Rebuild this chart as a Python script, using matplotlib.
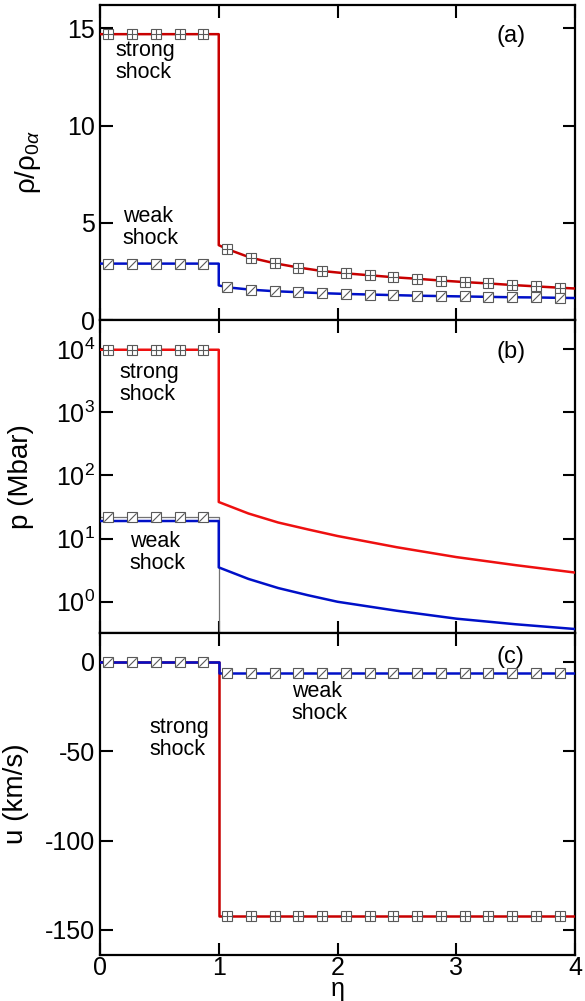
import numpy as np
import matplotlib
matplotlib.use('Agg')
import matplotlib.pyplot as plt
from matplotlib.path import Path

plt.rcParams['font.family'] = ['Liberation Sans', 'DejaVu Sans']
plt.rcParams['mathtext.fontset'] = 'custom'
plt.rcParams['mathtext.rm'] = 'Liberation Sans'
plt.rcParams['mathtext.it'] = 'Liberation Sans:italic'
plt.rcParams['axes.unicode_minus'] = False

# ---- data ----
# (a) density, eta >= 1 branch
eta_curve = [1.0, 1.07, 1.27, 1.47, 1.67, 1.87, 2.07, 2.27, 2.47, 2.67, 2.87, 3.07, 3.27, 3.47, 3.67, 3.87, 4.0]
rho_strong_r = [3.85, 3.65, 3.2, 2.92, 2.7, 2.52, 2.4, 2.3, 2.2, 2.12, 2.03, 1.95, 1.88, 1.8, 1.73, 1.66, 1.62]
rho_weak_r = [1.78, 1.68, 1.56, 1.48, 1.43, 1.38, 1.34, 1.31, 1.28, 1.25, 1.23, 1.21, 1.19, 1.17, 1.16, 1.14, 1.13]
rho_strong_l = 14.7
rho_weak_l = 2.9

# marker positions (numerical solution)
eta_mk_l = [0.07, 0.27, 0.47, 0.67, 0.87]
eta_mk_r = eta_curve[1:-1]

# (b) pressure
eta_p = [1.0, 1.25, 1.5, 1.75, 2.0, 2.5, 3.0, 3.5, 4.0]
p_strong_r = [38, 25, 18, 14, 11, 7.3, 5.1, 3.8, 2.9]
p_weak_r = [3.5, 2.3, 1.65, 1.27, 1.0, 0.72, 0.54, 0.44, 0.37]
p_strong_l = 9800
p_weak_l = 19
p_weak_mk = 22

# (c) velocity
u_l = 0
u_strong_r = -142
u_weak_r = -6.5

red = '#c80000'
blue = '#0010c8'

def slash():
    return Path([(-1, -1), (1, 1)], [Path.MOVETO, Path.LINETO])

def mk_plus(ax, x, y):
    ax.plot(x, y, 's', ms=7, mfc='white', mec='0.35', mew=0.8, zorder=5)
    ax.plot(x, y, '+', ms=7, mec='0.35', mew=0.8, zorder=6)

def mk_slash(ax, x, y):
    ax.plot(x, y, 's', ms=7, mfc='white', mec='0.35', mew=0.8, zorder=5)
    ax.plot(x, y, linestyle='none', marker=slash(), ms=6, mec='0.35', mew=0.8, zorder=6)

def step(left, eta_r, right):
    x = [0, 1] + list(eta_r)
    y = [left, left] + list(right)
    return x, y

fig = plt.figure(figsize=(5.85, 10.01), dpi=100)
L, W = 100/585, 475/585
ax1 = fig.add_axes([L, 1-320/1001, W, 315/1001])
ax2 = fig.add_axes([L, 1-633/1001, W, 313/1001])
ax3 = fig.add_axes([L, 1-955/1001, W, 322/1001])

for ax in (ax1, ax2, ax3):
    ax.set_xlim(0, 4)
    ax.set_xticks([0, 1, 2, 3, 4])
    ax.tick_params(direction='in', length=9, width=1.5, top=True, right=True,
                   labelsize=18, which='major')
    ax.tick_params(axis='x', pad=1)
    ax.tick_params(which='minor', length=0)
    for s in ax.spines.values():
        s.set_linewidth(1.6)

txt = 15.5

# ---- (a) ----
x, y = step(rho_strong_l, eta_curve, rho_strong_r)
ax1.plot(x, y, color=red, lw=1.8, zorder=3)
x, y = step(rho_weak_l, eta_curve, rho_weak_r)
ax1.plot(x, y, color=blue, lw=1.8, zorder=3)
mk_plus(ax1, eta_mk_l + eta_mk_r, [rho_strong_l]*5 + rho_strong_r[1:-1])
mk_slash(ax1, eta_mk_l + eta_mk_r, [rho_weak_l]*5 + rho_weak_r[1:-1])
ax1.set_ylim(0, 16.2)
ax1.set_yticks([0, 5, 10, 15])
ax1.tick_params(labelbottom=False)
ax1.set_ylabel('ρ/ρ$_{0\\alpha}$', fontsize=20)
ax1.yaxis.set_label_coords(-0.12, 0.5)
ax1.text(0.032, 0.889, 'strong\nshock', transform=ax1.transAxes, fontsize=txt, va='top', ha='left', linespacing=1.05)
ax1.text(0.048, 0.362, 'weak\nshock', transform=ax1.transAxes, fontsize=txt, va='top', ha='left', linespacing=1.05)
ax1.text(0.865, 0.902, '(a)', transform=ax1.transAxes, fontsize=17, va='center', ha='center')

# ---- (b) ----
ax2.set_yscale('log')
ax2.plot([0, 1, 1], [p_weak_mk, p_weak_mk, 1e-3], color='0.45', lw=0.9, zorder=2)
x, y = step(p_strong_l, eta_p, p_strong_r)
ax2.plot(x, y, color='#ee1010', lw=1.8, zorder=3)
x, y = step(p_weak_l, eta_p, p_weak_r)
ax2.plot(x, y, color=blue, lw=1.8, zorder=3)
mk_plus(ax2, eta_mk_l, [p_strong_l]*5)
mk_slash(ax2, eta_mk_l, [p_weak_mk]*5)
ax2.set_ylim(0.32, 2.9e4)
ax2.set_yticks([1, 10, 100, 1000, 10000])
ax2.tick_params(labelbottom=False)
ax2.set_ylabel('p (Mbar)', fontsize=20)
ax2.yaxis.set_label_coords(-0.14, 0.5)
ax2.text(0.042, 0.866, 'strong\nshock', transform=ax2.transAxes, fontsize=txt, va='top', ha='left', linespacing=1.05)
ax2.text(0.063, 0.326, 'weak\nshock', transform=ax2.transAxes, fontsize=txt, va='top', ha='left', linespacing=1.05)
ax2.text(0.865, 0.898, '(b)', transform=ax2.transAxes, fontsize=17, va='center', ha='center')

# ---- (c) ----
ax3.plot([0, 1, 1, 4], [u_l, u_l, u_strong_r, u_strong_r], color=red, lw=1.8, zorder=3)
ax3.plot([0, 1, 1, 4], [u_l, u_l, u_weak_r, u_weak_r], color=blue, lw=1.8, zorder=3)
mk_plus(ax3, eta_mk_r, [u_strong_r]*len(eta_mk_r))
mk_slash(ax3, eta_mk_l + eta_mk_r, [u_l]*5 + [u_weak_r]*len(eta_mk_r))
ax3.set_ylim(-164, 16)
ax3.set_yticks([-150, -100, -50, 0])
ax3.set_ylabel('u (km/s)', fontsize=20)
ax3.yaxis.set_label_coords(-0.15, 0.5)
ax3.set_xlabel('η', fontsize=18, va='top')
ax3.xaxis.set_label_coords(0.5, -0.068)
ax3.text(0.865, 0.925, '(c)', transform=ax3.transAxes, fontsize=17, va='center', ha='center')
ax3.text(0.404, 0.85, 'weak\nshock', transform=ax3.transAxes, fontsize=txt, va='top', ha='left', linespacing=1.05)
ax3.text(0.105, 0.738, 'strong\nshock', transform=ax3.transAxes, fontsize=txt, va='top', ha='left', linespacing=1.05)

fig.savefig('out.png', dpi=100)
